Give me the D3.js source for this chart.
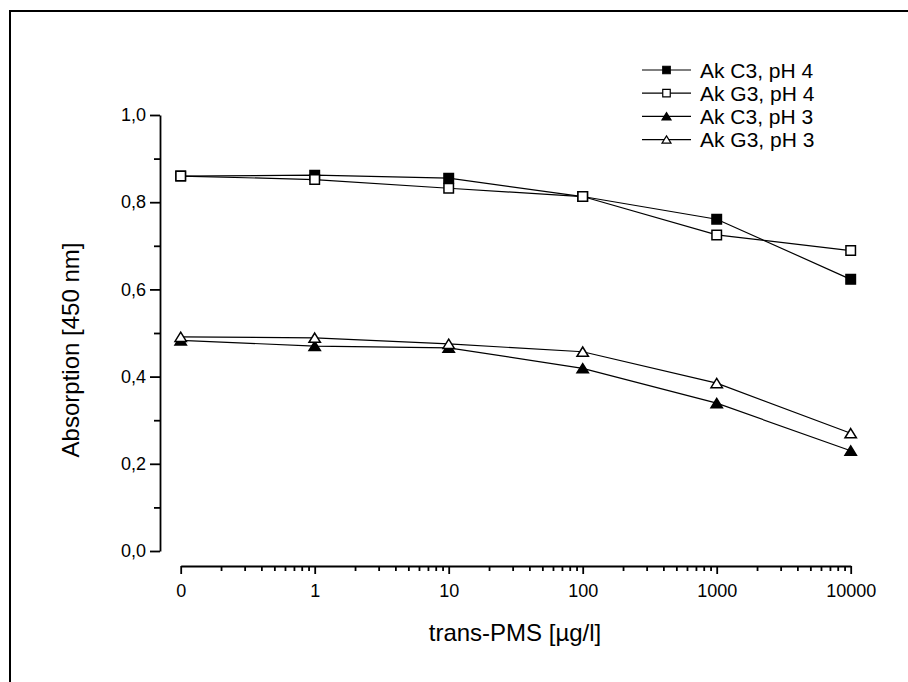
<!DOCTYPE html>
<html>
<head>
<meta charset="utf-8">
<script src="https://cdn.jsdelivr.net/npm/d3@7"></script>
<style>
  body { margin: 0; background: #fff; }
  svg { display: block; }
</style>
</head>
<body>
<svg id="chart" width="908" height="682"></svg>
<script>
// data
const concentrations = [0, 1, 10, 100, 1000, 10000]
const tickLabels = ['0', '1', '10', '100', '1000', '10000']
const seriesNames = ['Ak C3, pH 4', 'Ak G3, pH 4', 'Ak C3, pH 3', 'Ak G3, pH 3']
const akC3pH4 = [0.860, 0.862, 0.855, 0.813, 0.761, 0.623]
const akG3pH4 = [0.860, 0.852, 0.832, 0.813, 0.725, 0.689]
const akC3pH3 = [0.483, 0.470, 0.466, 0.419, 0.339, 0.230]
const akG3pH3 = [0.491, 0.489, 0.475, 0.457, 0.385, 0.270]
const yTicks = [0, 0.2, 0.4, 0.6, 0.8, 1.0]

const font = '"Liberation Sans", Arial, sans-serif'
const svg = d3.select('#chart')

// frame (only top and left edges are visible)
svg.append('path')
  .attr('d', 'M10,682 V11 H908')
  .attr('fill', 'none')
  .attr('stroke', 'black')
  .attr('stroke-width', 2)

// scales; zero is drawn at the 0.1 position of the log axis
const xPos = (v) => (v === 0 ? 0.1 : v)
const x = d3.scaleLog().domain([0.1, 10000]).range([180.7, 850.7])
const y = d3.scaleLinear().domain([0, 1]).range([551, 115])

// y axis
const yAxis = svg.append('g')
  .attr('transform', 'translate(160,0)')
  .call(d3.axisLeft(y).tickValues(yTicks).tickSize(10).tickSizeOuter(0)
    .tickFormat((d) => d3.format('.1f')(d).replace('.', ',')))
yAxis.append('g').call(d3.axisLeft(y).tickValues([0.1, 0.3, 0.5, 0.7, 0.9])
  .tickSize(6).tickFormat(''))
  .select('.domain').remove()
yAxis.selectAll('path, line').attr('stroke-width', 1.8)
yAxis.selectAll('text')
  .attr('font-family', font).attr('font-size', 18).attr('fill', 'black')
  .attr('x', -14)

// x axis
const minorX = []
for (let dec = 0.1; dec < 10000; dec *= 10) {
  for (let k = 2; k <= 9; k++) minorX.push(dec * k)
}
const xAxis = svg.append('g')
  .attr('transform', 'translate(0,566)')
  .call(d3.axisBottom(x).tickValues(concentrations.map(xPos)).tickSize(8)
    .tickSizeOuter(0).tickFormat((d, i) => tickLabels[i]))
xAxis.append('g').call(d3.axisBottom(x).tickValues(minorX).tickSize(5).tickFormat(''))
  .select('.domain').remove()
xAxis.selectAll('path, line').attr('stroke-width', 1.8)
xAxis.selectAll('text')
  .attr('font-family', font).attr('font-size', 18).attr('fill', 'black')
  .attr('y', 18)

// axis titles
svg.append('text')
  .attr('x', 515).attr('y', 641)
  .attr('text-anchor', 'middle')
  .attr('font-family', font).attr('font-size', 24)
  .text('trans-PMS [µg/l]')

svg.append('text')
  .attr('transform', 'translate(79,350) rotate(-90)')
  .attr('text-anchor', 'middle')
  .attr('font-family', font).attr('font-size', 24)
  .text('Absorption [450 nm]')

// series
const series = [
  { name: seriesNames[0], values: akC3pH4, shape: 'square', fill: 'black' },
  { name: seriesNames[1], values: akG3pH4, shape: 'square', fill: 'white' },
  { name: seriesNames[2], values: akC3pH3, shape: 'triangle', fill: 'black' },
  { name: seriesNames[3], values: akG3pH3, shape: 'triangle', fill: 'white' },
]

const line = d3.line()
  .x((d) => x(xPos(d[0])))
  .y((d) => y(d[1]))

svg.append('g').attr('class', 'lines')
  .selectAll('path')
  .data(series)
  .join('path')
  .attr('d', (s) => line(concentrations.map((c, i) => [c, s.values[i]])))
  .attr('fill', 'none')
  .attr('stroke', 'black')
  .attr('stroke-width', 1.2)

function markerPath(shape, size) {
  const h = size / 2
  if (shape === 'square') return `M${-h},${-h}H${h}V${h}H${-h}Z`
  const w = size * 0.6
  return `M0,${-h}L${w},${h * 0.95}L${-w},${h * 0.95}Z`
}

series.forEach((s) => {
  svg.append('g')
    .selectAll('path')
    .data(concentrations.map((c, i) => [c, s.values[i]]))
    .join('path')
    .attr('transform', (d) => `translate(${x(xPos(d[0]))},${y(d[1])})`)
    .attr('d', markerPath(s.shape, 9.5))
    .attr('fill', s.fill)
    .attr('stroke', 'black')
    .attr('stroke-width', 1.5)
})

// legend
const legend = svg.append('g').attr('transform', 'translate(642,70)')
const rows = legend.selectAll('g')
  .data(series)
  .join('g')
  .attr('transform', (d, i) => `translate(0,${i * 23.2})`)
rows.append('line')
  .attr('x1', 0).attr('x2', 49)
  .attr('stroke', 'black').attr('stroke-width', 1.2)
rows.append('path')
  .attr('transform', 'translate(24.5,0)')
  .attr('d', (d) => markerPath(d.shape, 7.5))
  .attr('fill', (d) => d.fill)
  .attr('stroke', 'black')
  .attr('stroke-width', 1.2)
rows.append('text')
  .attr('x', 58).attr('y', 7.5)
  .attr('font-family', font).attr('font-size', 21)
  .text((d) => d.name)
</script>
</body>
</html>
